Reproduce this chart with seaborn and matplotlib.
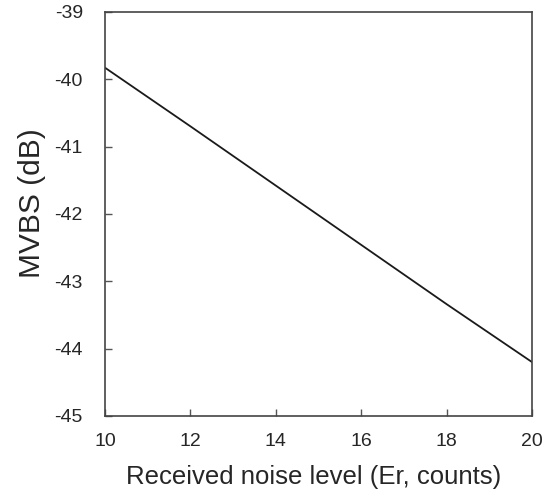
import matplotlib
matplotlib.use("Agg")
import matplotlib.pyplot as plt
import seaborn as sns
import pandas as pd

noise_level = [10, 12, 14, 16, 18, 20]
mvbs = [-39.83, -40.70, -41.58, -42.46, -43.34, -44.20]
x_ticks = [10, 12, 14, 16, 18, 20]
y_ticks = [-45, -44, -43, -42, -41, -40, -39]

sns.set_style("ticks")
plt.rcParams['font.family'] = ['Liberation Sans', 'DejaVu Sans']
plt.rcParams['axes.unicode_minus'] = False

df = pd.DataFrame({"x": noise_level, "y": mvbs})
fig = plt.figure(figsize=(5.53, 4.94), dpi=100)
ax = fig.add_axes([0.19, 0.158, 0.772, 0.818])
sns.lineplot(data=df, x="x", y="y", ax=ax, color="#1a1a1a", linewidth=1.3)
ax.set_xlim(10, 20)
ax.set_ylim(-45, -39)
ax.set_xticks(x_ticks)
ax.set_yticks(y_ticks)
ax.tick_params(direction="in", length=5, width=1, color="#555555", labelsize=14)
ax.tick_params(axis="x", pad=12)
ax.tick_params(axis="y", pad=16)
for s in ax.spines.values():
    s.set_visible(True)
    s.set_color("#444444")
    s.set_linewidth(1.2)
ax.set_xlabel("Received noise level (Er, counts)", fontsize=18.5, labelpad=11, x=0.488)
ax.set_ylabel("MVBS (dB)", fontsize=21.5, labelpad=6, y=0.527)
fig.savefig("out.png", dpi=100)
